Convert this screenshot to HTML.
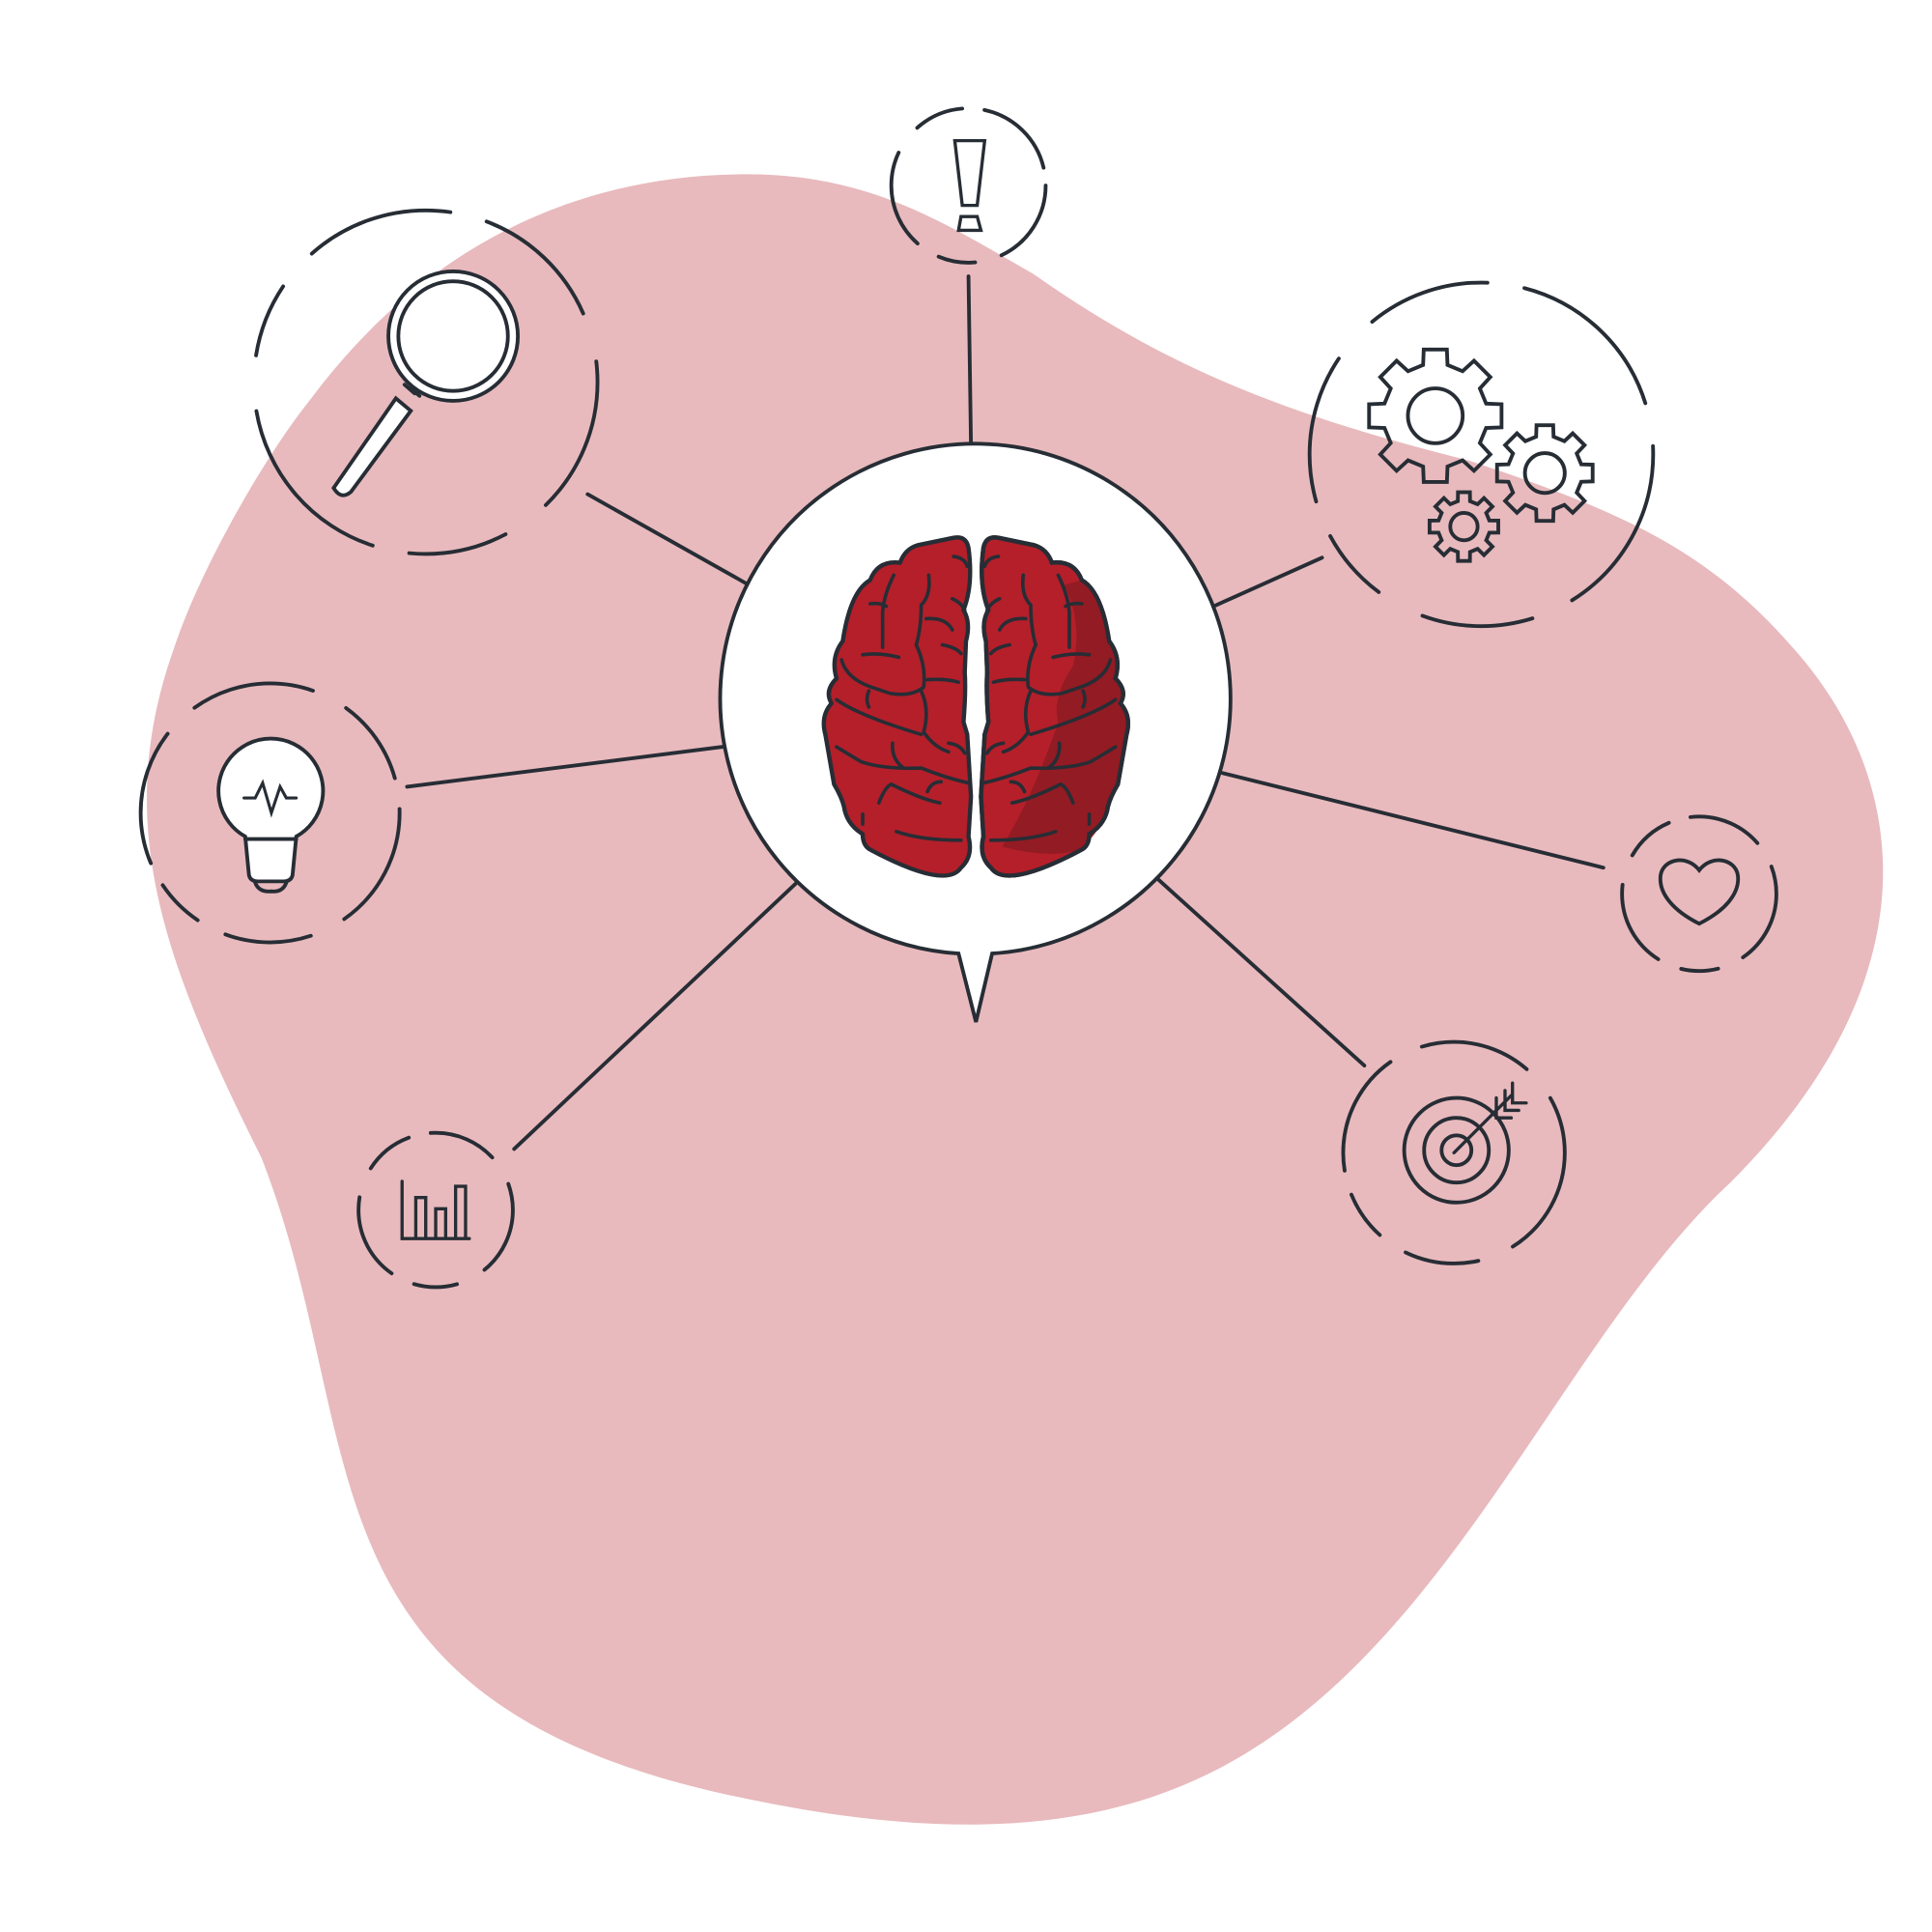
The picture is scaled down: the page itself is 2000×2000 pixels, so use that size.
<!DOCTYPE html>
<html><head><meta charset="utf-8"><style>html,body{margin:0;padding:0;background:#fff}svg{display:block}</style></head>
<body>
<svg id="s" width="2000" height="2000" viewBox="0 0 1552 1552" xmlns="http://www.w3.org/2000/svg">
<path d="M600,140 C700,140 760,180 830,220 C930,290 1020,330 1180,370 C1300,410 1370,440 1440,520 C1530,620 1560,780 1390,950 C1250,1080 1160,1340 960,1430 C850,1480 720,1470 600,1445 C230,1370 300,1160 210,930 C130,770 90,660 140,520 C160,460 210,370 250,320 C340,200 460,140 600,140 Z" fill="#e8babd"/>
<g stroke="#272d35" stroke-width="3" fill="none" stroke-linecap="round">
<line x1="778" y1="222" x2="780" y2="358"/>
<line x1="472" y1="397" x2="600" y2="469"/>
<line x1="975" y1="487" x2="1062" y2="448"/>
<line x1="327" y1="632" x2="580" y2="600"/>
<line x1="982" y1="621" x2="1288" y2="697"/>
<line x1="413" y1="923" x2="639" y2="710"/>
<line x1="931" y1="707" x2="1096" y2="856"/>
<path d="M770,766 A205,205 0 1 1 797,766 L784,821 Z" fill="#fff"/>
<circle cx="778" cy="149" r="62" stroke-dasharray="70 22 30 20 80 25 40 18"/>
<circle cx="342" cy="307" r="138" stroke-dasharray="110 40 80 30 150 45 60 35 120 30"/>
<circle cx="1190" cy="365" r="138" stroke-dasharray="140 35 90 40 60 30 120 40 100 30"/>
<circle cx="217" cy="653" r="104" stroke-dasharray="100 30 70 25 40 20 110 30"/>
<circle cx="1365" cy="718" r="62" stroke-dasharray="60 22 30 20 70 25 40 18"/>
<circle cx="350" cy="972" r="62" stroke-dasharray="55 25 35 20 70 25 40 18"/>
<circle cx="1168" cy="926" r="89" stroke-dasharray="90 30 60 25 40 20 100 28"/>
<path d="M767,113 H791 L785,165 H773 Z M772,174 H785 L788,185 H770 Z" fill="#fff" stroke-width="2.6"/>
<circle cx="364" cy="270" r="52" fill="#fff"/>
<circle cx="364" cy="270" r="44"/>
<path d="M330,312 L337,318 M325,309 L333,316"/>
<path d="M318,320 L330,330 L282,395 Q274,402 268,392 Z" fill="#fff"/>
<path d="M197,672 A42,42 0 1 1 238,672 L235,703 Q234,708 228,708 H207 Q201,708 200,703 Z" fill="#fff"/>
<path d="M197,674 H238 M205,709 Q208,717 218,716 Q227,717 230,709"/>
<path d="M196,641 H205 L211,629 L218,653 L225,632 L230,641 H238" stroke-width="2.4"/>
<path d="M1365,742 C1345,732 1332,718 1334,703 C1336,690 1355,686 1365,699 C1375,686 1394,690 1396,703 C1398,718 1385,732 1365,742 Z"/>
<path d="M323,949 V995 H377 M334,995 V962 H342 V995 M350,995 V971 H358 V995 M366,995 V953 H374 V995" stroke-width="2.6"/>
<circle cx="1170" cy="924" r="42"/><circle cx="1170" cy="924" r="26"/><circle cx="1170" cy="924" r="12"/>
<path d="M1168,926 L1214,880 M1202,882 V898 H1214 M1209,876 V892 H1220 M1215,870 V886 H1226" stroke-width="2.6"/>
<g id="gears" stroke-width="3"></g>
<g stroke-width="3.4" fill="#b41f2a" stroke-linejoin="round">
<path d="M778,440 Q776,430 766,432 L737,438 Q727,441 723,452 Q705,450 699,466 Q683,475 677,515 Q667,528 672,545 Q662,555 668,565 Q659,575 663,590 L670,630 Q676,640 678,648 Q680,662 693,670 Q693,680 700,683 Q760,715 772,697 Q782,688 778,672 L780,640 L777,590 L774,580 Q776,555 775,540 L776,515 Q780,500 774,490 Q782,470 778,440 Z"/>
<path d="M790,440 Q792,430 802,432 L831,438 Q841,441 845,452 Q863,450 869,466 Q885,475 891,515 Q901,528 896,545 Q906,555 900,565 Q909,575 905,590 L898,630 Q892,640 890,648 Q888,662 875,670 Q875,680 868,683 Q808,715 796,697 Q786,688 790,672 L788,640 L791,590 L794,580 Q792,555 793,540 L792,515 Q788,500 794,490 Q786,470 790,440 Z"/>
</g>
<path d="M855,470 Q870,500 862,535 Q845,560 850,580 Q830,640 805,680 Q840,690 868,683 Q888,662 890,648 Q898,630 905,590 Q909,575 900,565 Q906,555 896,545 Q901,528 891,515 Q885,475 869,466 Z" fill="#931b23" stroke="none"/>
<path d="M790,672 L788,640 L791,590 L794,580 Q792,555 793,540 L792,515 Q788,500 794,490 Q786,470 790,440 Q792,430 802,432 L831,438 Q841,441 845,452 Q863,450 869,466 Q885,475 891,515 Q901,528 896,545 Q906,555 900,565 Q909,575 905,590 L898,630 Q892,640 890,648 Q888,662 875,670 Q875,680 868,683 Q808,715 796,697 Q786,688 790,672 Z" stroke-width="3.4"/>
<g stroke-width="2.8">
<path d="M766,447 Q775,448 777,455 M746,462 Q748,478 740,486 Q740,505 736,518 Q744,535 742,552 Q732,560 715,557 L700,552 Q680,545 676,530 M693,526 Q706,524 722,528 M699,485 Q707,484 712,487 M718,462 Q710,478 709,492 L709,520 M744,497 Q760,496 765,506 M765,481 Q772,484 775,490 M757,518 Q768,520 772,525 M745,546 Q760,545 770,548 M740,555 Q747,570 742,588 Q750,600 762,604 M672,562 Q690,575 740,590 M698,555 Q695,562 698,568 M762,597 Q771,598 775,605 M672,600 Q685,608 692,612 Q710,618 740,617 Q760,625 778,629 M717,597 Q716,610 726,617 M745,636 Q748,628 756,628 M706,645 Q711,632 716,630 Q740,642 755,645 M693,654 V662 M720,668 Q740,675 772,675"/>
<path d="M802,447 Q793,448 791,455 M822,462 Q820,478 828,486 Q828,505 832,518 Q824,535 826,552 Q836,560 853,557 L868,552 Q888,545 892,530 M875,526 Q862,524 846,528 M869,485 Q861,484 856,487 M850,462 Q858,478 859,492 L859,520 M824,497 Q808,496 803,506 M803,481 Q796,484 793,490 M811,518 Q800,520 796,525 M823,546 Q808,545 798,548 M828,555 Q821,570 826,588 Q818,600 806,604 M896,562 Q878,575 828,590 M870,555 Q873,562 870,568 M806,597 Q797,598 793,605 M896,600 Q883,608 876,612 Q858,618 828,617 Q808,625 790,629 M851,597 Q852,610 842,617 M823,636 Q820,628 812,628 M862,645 Q857,632 852,630 Q828,642 813,645 M875,654 V662 M848,668 Q828,675 796,675"/>
</g>
</g>
</svg>
<script>
function gear(cx,cy,R,r,h,n){
 var d='',step=2*Math.PI/n;
 for(var i=0;i<n;i++){
  var a=i*step,t=step*0.22,b=step*0.3;
  var pts=[[a-b,r],[a-t,R],[a+t,R],[a+b,r]];
  pts.forEach(function(p,j){d+=(i==0&&j==0?'M':'L')+(cx+p[1]*Math.cos(p[0])).toFixed(1)+','+(cy+p[1]*Math.sin(p[0])).toFixed(1);});
 }
 d+='Z';
 return '<path d="'+d+'"/><circle cx="'+cx+'" cy="'+cy+'" r="'+h+'"/>';
}
document.getElementById('gears').innerHTML=gear(1153,334,54,42,22,8)+gear(1241,380,39,30,16,8)+gear(1176,423,28,21,11,8);
</script>
</body></html>
